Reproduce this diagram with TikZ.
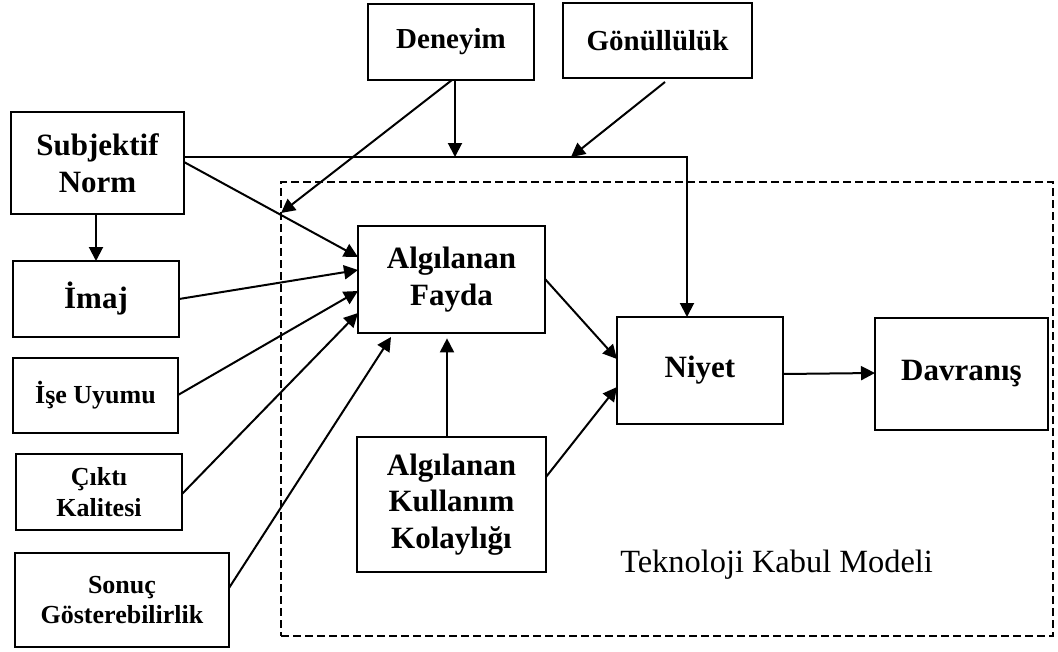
\documentclass[tikz,border=0pt]{standalone}
\usepackage{fontspec}
\setmainfont{Liberation Serif}
\usetikzlibrary{arrows.meta}

\tikzset{
  every picture/.style={x=0.75pt,y=-0.75pt},
  box/.style={draw,line width=1.9pt,inner sep=0pt,outer sep=0pt,align=center},
  sz/.style 2 args={minimum width=#1*0.75pt,minimum height=#2*0.75pt},
  bigtxt/.style={font=\bfseries\fontsize{23.25}{27.5}\selectfont},
  toptxt/.style={font=\bfseries\fontsize{21.75}{26}\selectfont},
  smalltxt/.style={font=\bfseries\fontsize{19.5}{23}\selectfont},
  frame/.style={draw,dash pattern=on 6pt off 3pt,line width=1.4pt,inner sep=0pt,outer sep=0pt},
  arr/.style={line width=1.5pt,-{Triangle[length=10.5pt,width=10.5pt]}}
}

\begin{document}
\begin{tikzpicture}
\useasboundingbox (0,0) rectangle (1058,651);

% Technology acceptance model frame
\node[frame,sz={772}{454}] (tam) at (667,409) {};
\node[font=\fontsize{24.3}{28}\selectfont,anchor=base west,inner sep=0pt] (tkm) at (620,572) {Teknoloji Kabul Modeli};

% Boxes
\node[box,toptxt,sz={166}{76}] (deneyim) at (451,42) {Deneyim};
\node[box,toptxt,sz={189}{75}] (gonul) at (657.5,40.5) {Gönüllülük};
\node[box,bigtxt,sz={173}{102}] (subj) at (97.5,163) {Subjektif\\Norm};
\node[box,bigtxt,sz={166}{76}] (imaj) at (96,299) {İmaj};
\node[box,smalltxt,sz={165}{75}] (ise) at (95.5,395.5) {İşe Uyumu};
\node[box,smalltxt,sz={166}{76}] (cikti) at (99,492) {Çıktı\\Kalitesi};
\node[box,smalltxt,sz={214}{94}] (sonuc) at (122,600) {Sonuç\\Gösterebilirlik};
\node[box,bigtxt,sz={187}{107}] (fayda) at (451.5,279.5) {Algılanan\\Fayda};
\node[box,bigtxt,sz={189}{135}] (kolay) at (451.5,504.5) {Algılanan\\Kullanım\\Kolaylığı};
\node[box,bigtxt,sz={166}{107}] (niyet) at (700,370.5) {Niyet};
\node[box,bigtxt,sz={173}{112}] (davr) at (961.5,374) {Davranış};

% Junction points on the subjective norm line
\coordinate (turn) at (687,157);
\coordinate (jdeneyim) at (455,157);
\coordinate (jgonul) at (571,157);

% Connectors
\draw[arr] (subj.south -| 96,0) -- (imaj.north -| 96,0);
\draw[arr] (subj.east |- 0,157) -- (turn) -- (niyet.north -| 687,0);
\draw[arr] (deneyim.south -| 455,0) -- (jdeneyim);
\draw[arr] (deneyim.south -| 452,0) -- (tam.west |- 0,213);
\draw[arr] ([yshift=-3]gonul.south -| 665,0) -- (jgonul);
\draw[arr] (subj.east |- 0,162) -- (fayda.west |- 0,257);
\draw[arr] (imaj.east |- 0,299) -- (fayda.west |- 0,270);
\draw[arr] (ise.east |- 0,395) -- (fayda.west |- 0,291);
\draw[arr] (cikti.east |- 0,494) -- (fayda.west |- 0,313);
\draw[arr] (sonuc.east |- 0,588) -- ([yshift=-3]fayda.south -| 391,0);
\draw[arr] (kolay.north -| 447,0) -- ([yshift=-4]fayda.south -| 447,0);
\draw[arr] (fayda.east |- 0,279) -- (niyet.west |- 0,359);
\draw[arr] (kolay.east |- 0,477) -- (niyet.west |- 0,387);
\draw[arr] (niyet.east |- 0,374) -- (davr.west |- 0,373);
\end{tikzpicture}
\end{document}
